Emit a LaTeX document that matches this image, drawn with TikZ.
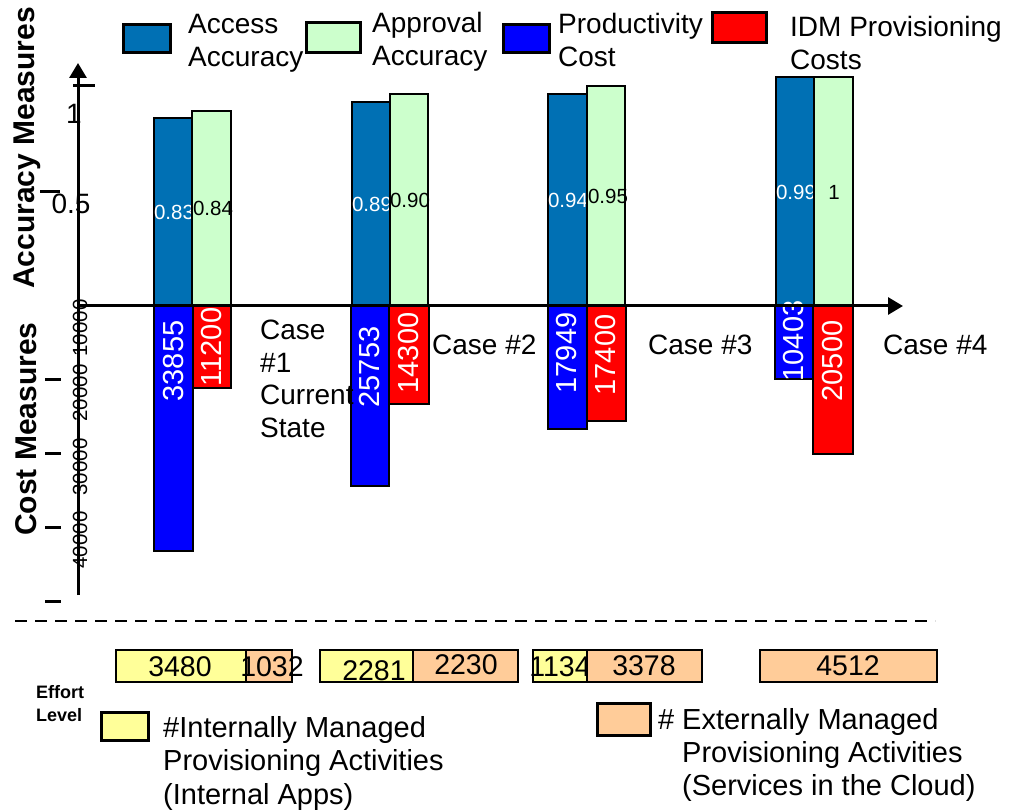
\documentclass[tikz,border=0pt]{standalone}
\usepackage{fontspec}
\setmainfont{Liberation Sans}
\usetikzlibrary{arrows.meta}
\definecolor{accblue}{HTML}{0070B4}
\definecolor{apprgreen}{HTML}{CCFFCC}
\definecolor{prodblue}{HTML}{0000FF}
\definecolor{idmred}{HTML}{FF0000}
\definecolor{intyellow}{HTML}{FFFF99}
\definecolor{extorange}{HTML}{FFCC99}
\begin{document}
\begin{tikzpicture}[x=1pt,y=-1pt,
  bar/.style={draw=black,line width=2.5pt},
  legbox/.style={draw=black,line width=3pt},
  axisline/.style={line width=3pt,-{Triangle[width=17pt,length=15pt]}},
  tickline/.style={line width=3pt},
  big/.style={font=\fontsize{28}{33}\selectfont,inner sep=0pt},
  legtext/.style={big,align=left,anchor=north west},
  acclabel/.style={font=\fontsize{20.5}{24}\selectfont,inner sep=0pt},
  costlabel/.style={font=\fontsize{29}{33}\selectfont,inner sep=0pt,rotate=90,text=white},
  ticklabel/.style={font=\fontsize{20.5}{24}\selectfont,inner sep=0pt,rotate=90},
  effortnum/.style={font=\fontsize{28.5}{33}\selectfont,inner sep=0pt},
  axistitle/.style={font=\bfseries\fontsize{30}{35}\selectfont,inner sep=0pt,rotate=90}]
\useasboundingbox (0,0) rectangle (1012,810);

% ---- top legend
\draw[legbox,fill=accblue] (123,25) rectangle (170,53);
\node[legtext] (lgacc) at (188,14) {Access\\Accuracy};
\draw[legbox,fill=apprgreen] (306,23) rectangle (360,53);
\node[legtext] (lgappr) at (372,12) {Approval\\Accuracy};
\draw[legbox,fill=prodblue] (503,25) rectangle (549,53);
\node[legtext] (lgprod) at (558,13) {Productivity\\Cost};
\draw[legbox,fill=idmred] (712,13) rectangle (766,43);
\node[legtext] (lgidm) at (790,16) {IDM Provisioning\\Costs};

% ---- axis titles
\node[axistitle] (acctitle) at (27,148) {Accuracy Measures};
\node[axistitle] (costtitle) at (26,429) {Cost Measures};

% ---- accuracy bars (above the axis)
\draw[bar,fill=accblue] (154,118) rectangle (192,306);
\node[acclabel,text=white] (a1) at (174,212) {0.83};
\draw[bar,fill=apprgreen] (192,111) rectangle (231,306);
\node[acclabel] (p1) at (213,208) {0.84};

\draw[bar,fill=accblue] (352,102) rectangle (390,306);
\node[acclabel,text=white] (a2) at (372,204) {0.89};
\draw[bar,fill=apprgreen] (390,94) rectangle (428,306);
\node[acclabel] (p2) at (410,200) {0.90};

\draw[bar,fill=accblue] (548,94) rectangle (587,306);
\node[acclabel,text=white] (a3) at (568,200) {0.94};
\draw[bar,fill=apprgreen] (587,86) rectangle (625,306);
\node[acclabel] (p3) at (608,196) {0.95};

\draw[bar,fill=accblue] (776,77) rectangle (814,306);
\node[acclabel,text=white] (a4) at (796,192) {0.99};
\draw[bar,fill=apprgreen] (814,77) rectangle (853,306);
\node[acclabel] (p4) at (834,192) {1};

% ---- cost bars (below the axis)
\draw[bar,fill=prodblue] (154,306) rectangle (193,551);
\node[costlabel] (c1) at (174,361) {33855};
\draw[bar,fill=idmred] (193,306) rectangle (231,388);
\node[costlabel] (i1) at (212,347) {11200};

\draw[bar,fill=prodblue] (351,306) rectangle (389,486);
\node[costlabel] (c2) at (370,367) {25753};
\draw[bar,fill=idmred] (389,306) rectangle (429,404);
\node[costlabel] (i2) at (409,353) {14300};

\draw[bar,fill=prodblue] (548,306) rectangle (587,429);
\node[costlabel] (c3) at (567,353) {17949};
\draw[bar,fill=idmred] (587,306) rectangle (626,421);
\node[costlabel] (i3) at (606,355) {17400};

\draw[bar,fill=prodblue] (775,306) rectangle (813,379);
\node[costlabel] (c4) at (794,341) {10403};
\draw[bar,fill=idmred] (813,306) rectangle (853,454);
\node[costlabel] (i4) at (833,361) {20500};

% ---- case labels
\node[legtext,font=\fontsize{28}{32.5}\selectfont] (case1) at (260,320) {Case\\\#1\\Current\\State};
\node[big,anchor=west] (case2) at (432,345) {Case \#2};
\node[big,anchor=west] (case3) at (648,345) {Case \#3};
\node[big,anchor=west] (case4) at (883,345) {Case \#4};

% ---- cost scale labels (the axis runs through them)
\node[ticklabel] (t10) at (80,328) {10000};
\node[ticklabel] (t20) at (80,393) {20000};
\node[ticklabel] (t30) at (80,467) {30000};
\node[ticklabel] (t40) at (80,540) {40000};

% ---- axes
\coordinate (origin) at (78,306);
\coordinate (ytop) at (78,63);
\coordinate (ybot) at (78,595);
\coordinate (xend) at (903,306);
\draw[axisline] (ybot) -- (ytop);
\draw[axisline] (origin) -- (xend);

% ---- ticks
\draw[tickline] (73,86) -- (95,86);
\draw[tickline] (40,192) -- (60,192);
\draw[tickline] (45,379) -- (61,379);
\draw[tickline] (45,453) -- (61,453);
\draw[tickline] (45,527) -- (61,527);
\draw[tickline] (45,601) -- (61,601);
\node[big] (one) at (74,114) {1};
\node[big] (half) at (71,204) {0.5};

% ---- separator
\draw[line width=2pt,dash pattern=on 12pt off 8pt] (15,621) -- (935,621);

% ---- effort level bars
\draw[bar,fill=intyellow] (116,650) rectangle (246,682);
\node[effortnum] (e1i) at (180,667) {3480};
\draw[bar,fill=extorange] (246,650) rectangle (292,682);
\node[effortnum] (e1e) at (272,667) {1032};

\draw[bar,fill=intyellow] (320,650) rectangle (413,682);
\node[effortnum] (e2i) at (374,671) {2281};
\draw[bar,fill=extorange] (413,650) rectangle (518,682);
\node[effortnum] (e2e) at (466,665) {2230};

\draw[bar,fill=intyellow] (533,650) rectangle (587,682);
\node[effortnum] (e3i) at (560,667) {1134};
\draw[bar,fill=extorange] (587,650) rectangle (702,682);
\node[effortnum] (e3e) at (644,666) {3378};

\draw[bar,fill=extorange] (760,650) rectangle (937,682);
\node[effortnum] (e4e) at (848,666) {4512};

% ---- bottom legend
\node[align=left,anchor=north west,inner sep=0pt,font=\bfseries\fontsize{18}{23}\selectfont] (effort) at (36,685) {Effort\\Level};
\draw[legbox,fill=intyellow] (101,712) rectangle (148,740);
\node[legtext,font=\fontsize{29}{33.5}\selectfont] (lgint) at (163,716) {\#Internally Managed\\Provisioning Activities\\(Internal Apps)};
\draw[legbox,fill=extorange] (597,703) rectangle (650,735);
\node[legtext,font=\fontsize{29}{33}\selectfont] (lgext) at (682,708) {\llap{\# }Externally Managed\\Provisioning Activities\\(Services in the Cloud)};
\end{tikzpicture}
\end{document}
